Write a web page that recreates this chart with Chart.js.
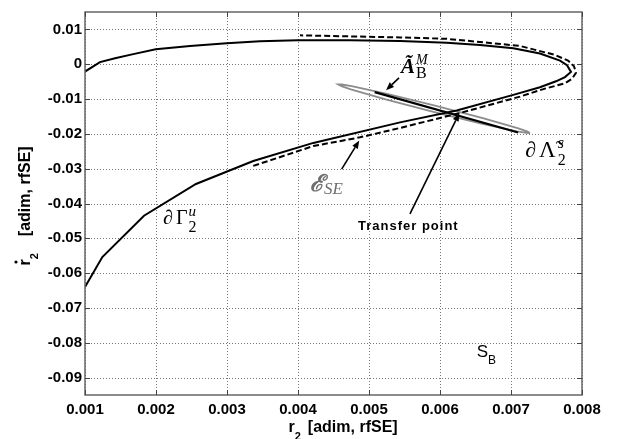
<!DOCTYPE html>
<html lang="en">
<head>
<meta charset="UTF-8">
<title>Transfer point - phase plane</title>
<script src="https://cdn.jsdelivr.net/npm/chart.js"></script>
<style>
    html, body { margin: 0; padding: 0; background: #fff; }
    .chart-container { width: 627px; height: 439px; position: relative; }
</style>
</head>
<body>
<div class="chart-container"><canvas id="phaseChart"></canvas></div>
<script>
// values: r2 (x) and r2dot (y)
const gammaR = [0.001, 0.001244, 0.001831, 0.002563, 0.00337, 0.004216, 0.005437, 0.006235, 0.007032, 0.007408, 0.007634, 0.00776, 0.007845,
    0.007789, 0.00769, 0.007408, 0.007032, 0.006563, 0.006094, 0.005437, 0.004732, 0.003996, 0.003465, 0.002996, 0.002479, 0.001996, 0.00168, 0.001423, 0.001211, 0.001];
const gammaRdot = [-0.064, -0.0554, -0.0435, -0.0344, -0.0278, -0.0226, -0.0167, -0.0133, -0.0088, -0.0066, -0.0049, -0.0037, -0.0022,
    -0.0003, 0.00104, 0.0031, 0.0046, 0.0055, 0.0062, 0.0067, 0.0069, 0.0069, 0.0066, 0.006, 0.0052, 0.0043, 0.0029, 0.0017, 0.0006, -0.0021];

const seR = [0.00337, 0.004216, 0.004873, 0.005437, 0.006282, 0.007127, 0.007479, 0.00776, 0.007859, 0.007915,
    0.007887, 0.007803, 0.00762, 0.007127, 0.006563, 0.006094, 0.005437, 0.004732, 0.004028];
const seRdot = [-0.0292, -0.0235, -0.021, -0.0183, -0.014, -0.0093, -0.007, -0.0055, -0.0042, -0.0025,
    -0.00056, 0.00104, 0.00267, 0.00525, 0.0064, 0.0073, 0.0077, 0.008, 0.0083];

const lambdaR = [0.007268, 0.007219, 0.007081, 0.006583, 0.005907, 0.005234, 0.004744, 0.004612, 0.004569,
    0.004618, 0.004756, 0.005254, 0.00593, 0.006603, 0.007093, 0.007225, 0.007268];
const lambdaRdot = [-0.01975, -0.01974, -0.01926, -0.01704, -0.01368, -0.01008, -0.0072, -0.00629, -0.00581,
    -0.00582, -0.0063, -0.00852, -0.01188, -0.01549, -0.01836, -0.01928, -0.01975];

const abmR = [0.00508, 0.0071];
const abmRdot = [-0.008, -0.0196];

const xTicks = [0.001, 0.002, 0.003, 0.004, 0.005, 0.006, 0.007, 0.008];
const xTickLabels = ['0.001', '0.002', '0.003', '0.004', '0.005', '0.006', '0.007', '0.008'];
const yTicks = [-0.09, -0.08, -0.07, -0.06, -0.05, -0.04, -0.03, -0.02, -0.01, 0, 0.01];
const yTickLabels = ['-0.09', '-0.08', '-0.07', '-0.06', '-0.05', '-0.04', '-0.03', '-0.02', '-0.01', '0', '0.01'];

function toPoints(xs, ys) {
    return xs.map((x, i) => ({ x: x, y: ys[i] }));
}

const serif = '"Liberation Serif", "DejaVu Serif", serif';
const sans = '"Liberation Sans", Arial, sans-serif';

// labels anchored in data coordinates (left, baseline)
const labels = [
    { x: 0.005451, y: -0.00253, parts: [
        { text: 'Ã', font: 'italic bold 21px ' + serif, gap: 1 },
        { text: 'B', font: '16px ' + serif, dy: 5, advance: false },
        { text: 'M', font: 'italic 14px ' + serif, dy: -9 }] },
    { x: 0.0072, y: -0.0266, parts: [
        { text: '∂', font: 'italic 22px ' + serif, gap: 3 },
        { text: 'Λ\u0303', font: '23px ' + serif, gap: 2 },
        { text: '2', font: '16px ' + serif, dy: 8, advance: false },
        { text: 's', font: 'italic 16px ' + serif, dy: -9 }] },
    { x: 0.004169, y: -0.03652, color: '#6e6e6e', parts: [
        { text: 'ℰ', font: 'italic bold 23px ' + serif },
        { text: 'SE', font: 'italic 17px ' + serif, dy: 3 }] },
    { x: 0.0021, y: -0.04579, parts: [
        { text: '∂', font: 'italic 20px ' + serif, gap: 3 },
        { text: 'Γ', font: '20px ' + serif, gap: 1 },
        { text: '2', font: '16px ' + serif, dy: 8, advance: false },
        { text: 'u', font: 'italic 15px ' + serif, dy: -8 }] },
    { x: 0.004845, y: -0.04775, spacing: '1px', parts: [
        { text: 'Transfer point', font: 'bold 13px ' + sans }] },
    { x: 0.006517, y: -0.08399, parts: [
        { text: 'S', font: '17px ' + sans },
        { text: 'B', font: '12px ' + sans, dy: 7 }] }
];

// arrows: tail -> head, data coordinates
const arrows = [
    { from: [0.005423, -0.00393], to: [0.00524, -0.00744] },
    { from: [0.004615, -0.03014], to: [0.004863, -0.02191] },
    { from: [0.005577, -0.04298], to: [0.006272, -0.01404] }
];

function drawParts(ctx, x, y, parts, color) {
    let cx = x;
    parts.forEach(p => {
        ctx.font = p.font;
        ctx.fillStyle = color || '#000';
        ctx.fillText(p.text, cx, y + (p.dy || 0));
        if (p.advance !== false) cx += ctx.measureText(p.text).width + (p.gap || 0);
    });
}

const decorations = {
    id: 'decorations',
    beforeDatasetsDraw(chart) {
        // dotted grid
        const { ctx, chartArea: a, scales: { x, y } } = chart;
        ctx.save();
        ctx.strokeStyle = '#777';
        ctx.lineWidth = 1;
        ctx.setLineDash([1, 2]);
        ctx.beginPath();
        xTicks.forEach(v => {
            const px = Math.round(x.getPixelForValue(v)) + 0.5;
            ctx.moveTo(px, a.top); ctx.lineTo(px, a.bottom);
        });
        yTicks.forEach(v => {
            const py = Math.round(y.getPixelForValue(v)) + 0.5;
            ctx.moveTo(a.left, py); ctx.lineTo(a.right, py);
        });
        ctx.stroke();
        ctx.restore();
    },
    afterDatasetsDraw(chart) {
        const { ctx, chartArea: a, scales: { x, y } } = chart;
        ctx.save();
        // box + inward ticks
        ctx.strokeStyle = '#666';
        ctx.lineWidth = 1.5;
        ctx.strokeRect(a.left, a.top, a.right - a.left, a.bottom - a.top);
        ctx.lineWidth = 1;
        ctx.strokeStyle = '#444';
        ctx.beginPath();
        xTicks.forEach(v => {
            const px = Math.round(x.getPixelForValue(v)) + 0.5;
            ctx.moveTo(px, a.bottom); ctx.lineTo(px, a.bottom - 5);
            ctx.moveTo(px, a.top); ctx.lineTo(px, a.top + 5);
        });
        yTicks.forEach(v => {
            const py = Math.round(y.getPixelForValue(v)) + 0.5;
            ctx.moveTo(a.left, py); ctx.lineTo(a.left + 5, py);
            ctx.moveTo(a.right, py); ctx.lineTo(a.right - 5, py);
        });
        ctx.stroke();

        // arrows
        ctx.strokeStyle = '#000';
        ctx.fillStyle = '#000';
        ctx.lineWidth = 1.6;
        arrows.forEach(ar => {
            const x0 = x.getPixelForValue(ar.from[0]), y0 = y.getPixelForValue(ar.from[1]);
            const x1 = x.getPixelForValue(ar.to[0]), y1 = y.getPixelForValue(ar.to[1]);
            const ang = Math.atan2(y1 - y0, x1 - x0);
            const len = 8, hw = 3.2;
            const bx = x1 - len * Math.cos(ang), by = y1 - len * Math.sin(ang);
            ctx.beginPath();
            ctx.moveTo(x0, y0); ctx.lineTo(bx, by);
            ctx.stroke();
            ctx.beginPath();
            ctx.moveTo(x1, y1);
            ctx.lineTo(bx + hw * Math.sin(ang), by - hw * Math.cos(ang));
            ctx.lineTo(bx - hw * Math.sin(ang), by + hw * Math.cos(ang));
            ctx.closePath();
            ctx.fill();
        });

        // text labels
        ctx.textBaseline = 'alphabetic';
        ctx.textAlign = 'left';
        labels.forEach(l => {
            ctx.letterSpacing = l.spacing || '0px';
            drawParts(ctx, x.getPixelForValue(l.x), y.getPixelForValue(l.y), l.parts, l.color);
        });
        ctx.letterSpacing = '0px';

        // axis titles
        const bold = 'bold 16px ' + sans;
        const sub = 'bold 11px ' + sans;
        const tx = (a.left + a.right) / 2 - 45, ty = a.bottom + 37;
        drawParts(ctx, tx, ty, [{ text: 'r', font: bold }, { text: '2', font: sub, dy: 8, gap: 7 }, { text: '[adim, rfSE]', font: bold }]);

        ctx.translate(a.left - 55, (a.top + a.bottom) / 2 + 62);
        ctx.rotate(-Math.PI / 2);
        drawParts(ctx, 0, 0, [{ text: 'r', font: bold }, { text: '2', font: sub, dy: 8, gap: 17 }, { text: '[adim, rfSE]', font: bold }]);
        // dot of r-dot
        ctx.beginPath();
        ctx.arc(3.5, -14, 1.6, 0, Math.PI * 2);
        ctx.fill();
        ctx.restore();
    }
};

const ctx = document.getElementById('phaseChart').getContext('2d');
new Chart(ctx, {
    type: 'scatter',
    data: {
        datasets: [
            { data: toPoints(abmR, abmRdot), borderColor: '#000', borderWidth: 2.2 },
            { data: toPoints(gammaR, gammaRdot), borderColor: '#000', borderWidth: 2 },
            { data: toPoints(seR, seRdot), borderColor: '#000', borderWidth: 2, borderDash: [6, 3] },
            { data: toPoints(lambdaR, lambdaRdot), borderColor: '#8c8c8c', borderWidth: 1.8 }
        ]
    },
    options: {
        responsive: true,
        maintainAspectRatio: false,
        animation: false,
        showLine: true,
        elements: { point: { radius: 0, hoverRadius: 0 }, line: { tension: 0, fill: false } },
        layout: { padding: { top: 4, right: 45, left: 0, bottom: 0 } },
        plugins: { legend: { display: false }, tooltip: { enabled: false } },
        scales: {
            x: {
                type: 'linear',
                min: 0.001,
                max: 0.008,
                afterBuildTicks: scale => { scale.ticks = xTicks.map(v => ({ value: v })); },
                afterFit: scale => { scale.height = 44; },
                grid: { display: false, drawTicks: false },
                border: { display: false },
                ticks: {
                    autoSkip: false,
                    maxRotation: 0,
                    padding: 6,
                    color: '#000',
                    font: { family: sans, size: 15, weight: 'bold' },
                    callback: (v, i) => xTickLabels[i]
                }
            },
            y: {
                type: 'linear',
                min: -0.095,
                max: 0.015,
                afterBuildTicks: scale => { scale.ticks = yTicks.map(v => ({ value: v })); },
                afterFit: scale => { scale.width = 85; },
                grid: { display: false, drawTicks: false },
                border: { display: false },
                ticks: {
                    autoSkip: false,
                    padding: 3,
                    color: '#000',
                    font: { family: sans, size: 15, weight: 'bold' },
                    callback: (v, i) => yTickLabels[i]
                }
            }
        }
    },
    plugins: [decorations]
});
</script>
</body>
</html>
